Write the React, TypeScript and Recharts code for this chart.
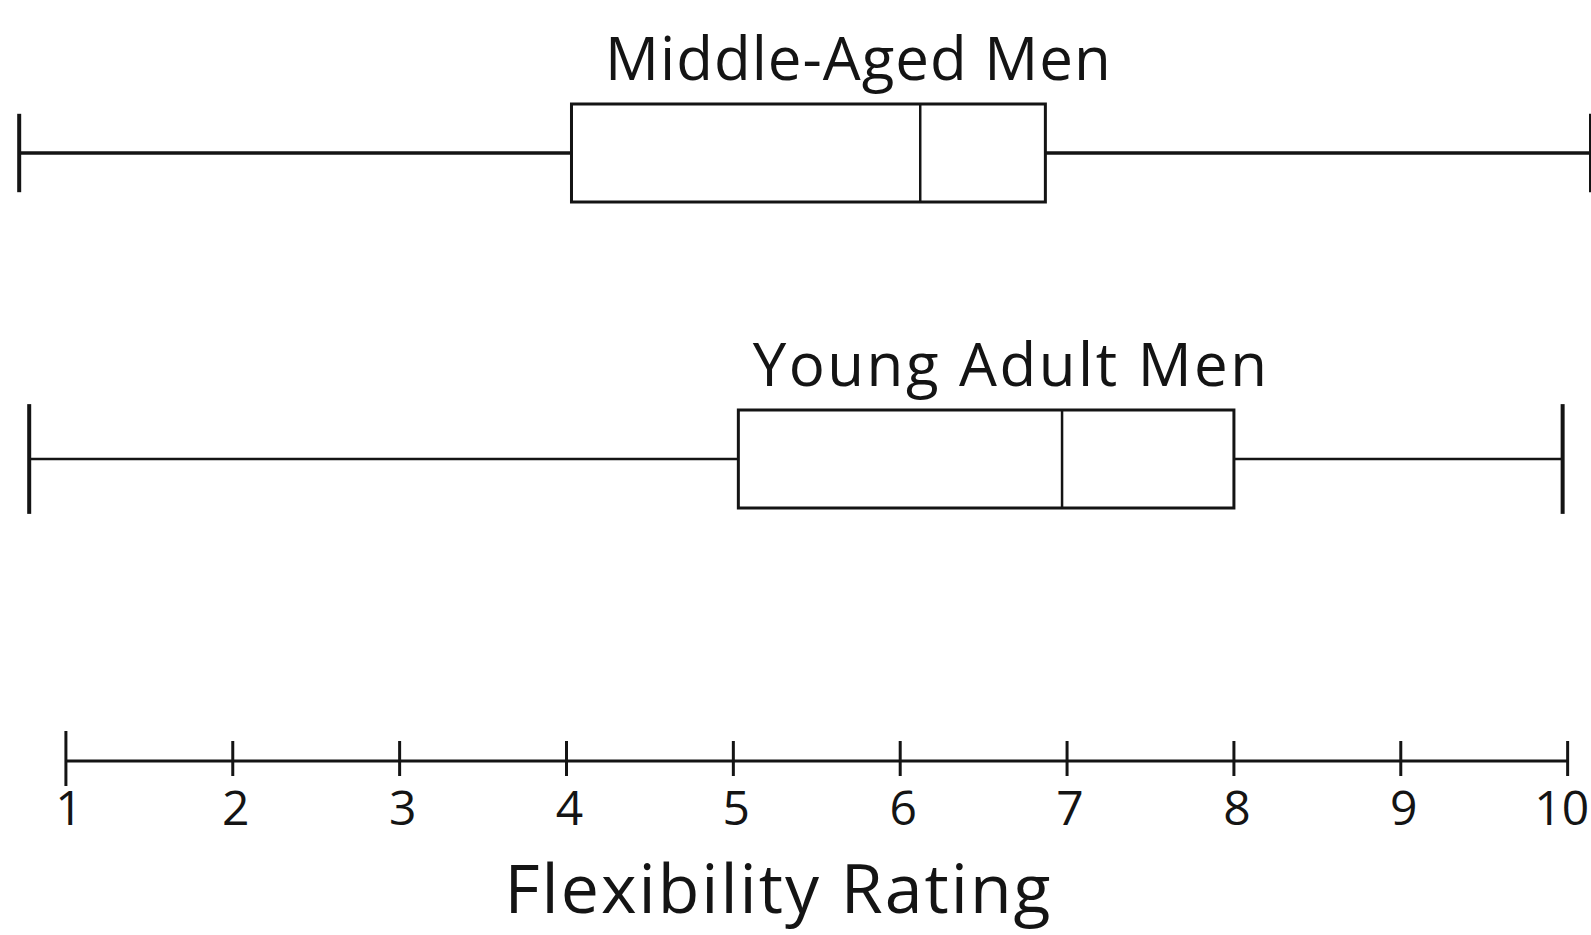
import React from "react";
import {
  ComposedChart,
  Bar,
  XAxis,
  YAxis,
  ReferenceLine,
  Label,
} from "recharts";

// five-number summaries
const groups = ["Middle-Aged Men", "Young Adult Men"];
const mins = [0.72, 0.78];
const q1s = [4.03, 5.03];
const medians = [6.12, 6.97];
const q3s = [6.87, 8.0];
const maxs = [10.14, 9.97];

const xTicks = [1, 2, 3, 4, 5, 6, 7, 8, 9, 10];

const rows = groups.map((name, i) => ({
  name,
  base: mins[i],
  lowWhisker: q1s[i] - mins[i],
  box: q3s[i] - q1s[i],
  highWhisker: maxs[i] - q3s[i],
  median: medians[i],
  q1: q1s[i],
  q3: q3s[i],
}));

const INK = "#141414";
const FONT = "'Open Sans', sans-serif";
// whisker caps are drawn a bit shorter / longer than the box for each group
const capRatio = [0.8, 1.12];
const whiskerWidth = [3.5, 2.5];
const titleShift = [50, 25];

const Empty = () => <g />;

const LowWhisker = (props: any) => {
  const { x, y, width, height, index } = props;
  const cy = y + height / 2;
  const half = (height * capRatio[index]) / 2;
  return (
    <g>
      <line x1={x} x2={x + width} y1={cy} y2={cy} stroke={INK} strokeWidth={whiskerWidth[index]} />
      <line x1={x} x2={x} y1={cy - half} y2={cy + half} stroke={INK} strokeWidth={4} />
    </g>
  );
};

const HighWhisker = (props: any) => {
  const { x, y, width, height, index } = props;
  const cy = y + height / 2;
  const half = (height * capRatio[index]) / 2;
  return (
    <g>
      <line x1={x} x2={x + width} y1={cy} y2={cy} stroke={INK} strokeWidth={whiskerWidth[index]} />
      <line x1={x + width} x2={x + width} y1={cy - half} y2={cy + half} stroke={INK} strokeWidth={4} />
    </g>
  );
};

const BoxShape = (props: any) => {
  const { x, y, width, height, payload, index } = props;
  const mx = x + (width * (payload.median - payload.q1)) / (payload.q3 - payload.q1);
  return (
    <g>
      <rect x={x} y={y} width={width} height={height} fill="none" stroke={INK} strokeWidth={3} />
      <line x1={mx} x2={mx} y1={y} y2={y + height} stroke={INK} strokeWidth={2.5} />
      <text
        x={x + width / 2 + titleShift[index]}
        y={y - 24}
        textAnchor="middle"
        fontFamily={FONT}
        fontSize={60}
        letterSpacing={index === 1 ? 2.5 : 1}
        fill={INK}
      >
        {payload.name}
      </text>
    </g>
  );
};

const AxisTick = (props: any) => {
  const { x, y, payload, index } = props;
  const first = index === 0;
  const last = index === xTicks.length - 1;
  return (
    <g>
      <line x1={x} x2={x} y1={y - (first ? 30 : 20)} y2={y + (first ? 25 : 15)} stroke={INK} strokeWidth={3} />
      <text x={last ? x - 6 : x + 3} y={y + 64} textAnchor="middle" fontFamily={FONT} fontSize={48} fill={INK}>
        {payload.value}
      </text>
    </g>
  );
};

const AxisTitle = (props: any) => {
  const { viewBox } = props;
  return (
    <text
      x={viewBox.x + viewBox.width / 2 - 17}
      y={viewBox.y + 152}
      textAnchor="middle"
      fontFamily={FONT}
      fontSize={68}
      letterSpacing={2}
      fill={INK}
    >
      Flexibility Rating
    </text>
  );
};

const App = () => {
  return (
    <div style={{ position: "absolute", left: 0, top: 0, background: "#fff" }}>
      <ComposedChart
        width={1591}
        height={935}
        data={rows}
        layout="vertical"
        margin={{ top: 0, right: 0, bottom: 0, left: 0 }}
      >
        <XAxis
          type="number"
          domain={[0.605, 10.14]}
          allowDataOverflow
          ticks={xTicks}
          interval={0}
          height={174}
          axisLine={false}
          tickLine={false}
          tickSize={0}
          tickMargin={0}
          tick={<AxisTick />}
        >
          <Label content={<AxisTitle />} />
        </XAxis>
        <YAxis type="category" dataKey="name" hide padding={{ top: 0, bottom: 149 }} />
        <YAxis yAxisId="base" type="number" domain={[0, 1]} hide />
        <ReferenceLine
          yAxisId="base"
          segment={[
            { x: 1, y: 1 },
            { x: 10, y: 1 },
          ]}
          stroke={INK}
          strokeWidth={3}
        />
        <Bar dataKey="base" stackId="s" barSize={98} shape={<Empty />} isAnimationActive={false} />
        <Bar dataKey="lowWhisker" stackId="s" barSize={98} shape={<LowWhisker />} isAnimationActive={false} />
        <Bar dataKey="box" stackId="s" barSize={98} shape={<BoxShape />} isAnimationActive={false} />
        <Bar dataKey="highWhisker" stackId="s" barSize={98} shape={<HighWhisker />} isAnimationActive={false} />
      </ComposedChart>
    </div>
  );
};

export default App;
